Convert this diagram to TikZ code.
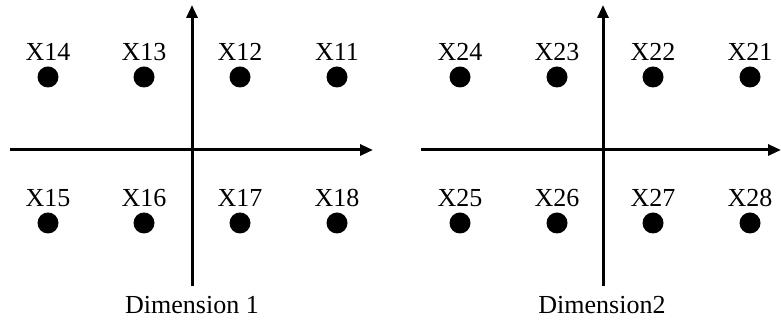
\documentclass[tikz,border=0pt]{standalone}
\usepackage{fontspec}
\setmainfont{Liberation Serif}
\usetikzlibrary{arrows.meta}
\begin{document}
\begin{tikzpicture}[x=0.5pt, y=-0.5pt, font=\fontsize{13}{15}\selectfont, >={Triangle[length=6.5pt, width=5.5pt]},
    dot/.style={circle, fill=black, inner sep=0pt, minimum size=10.5pt},
    tag/.style={anchor=base, inner sep=0pt},
    axis/.style={->, line width=1.5pt}]
    \useasboundingbox (0,0) rectangle (782,330);

    \foreach \p/\ax/\hl/\hr/\xa/\xb/\xc/\xd in {1/192/10/373/48/144/240/337, 2/603/421/781/460/557/653/750}{
        \coordinate (v\p s) at (\ax,286);
        \coordinate (v\p n) at (\ax,5);
        \coordinate (h\p w) at (\hl,150);
        \coordinate (h\p e) at (\hr,150);
        \draw[axis] (h\p w) -- (h\p e);
        \draw[axis] (v\p s) -- (v\p n);

        \foreach \i/\x in {4/\xa, 3/\xb, 2/\xc, 1/\xd}{
            \node[dot] (x\p\i) at (\x,77) {};
            \node[tag] (l\p\i) at (\x,61) {X\p\i};
        }
        \foreach \i/\x in {5/\xa, 6/\xb, 7/\xc, 8/\xd}{
            \node[dot] (x\p\i) at (\x,223) {};
            \node[tag] (l\p\i) at (\x,207) {X\p\i};
        }
    }

    \node[tag] (dim1) at (192,314) {Dimension 1};
    \node[tag] (dim2) at (602,314) {Dimension2};
\end{tikzpicture}
\end{document}
